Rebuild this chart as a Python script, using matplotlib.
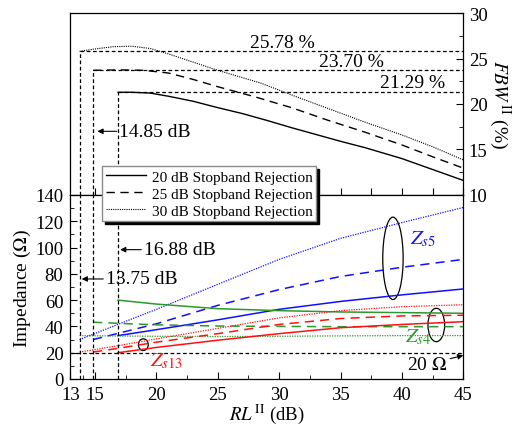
import numpy as np
import matplotlib
matplotlib.use("Agg")
import matplotlib.pyplot as plt
from matplotlib.patches import Ellipse
from matplotlib.ticker import MultipleLocator, FixedLocator

plt.rcParams['font.family'] = ['Liberation Serif', 'DejaVu Serif']
plt.rcParams['mathtext.fontset'] = 'stix'

# FBW (top panel)
rl_20 = [16.88, 18, 19.5, 21, 23, 25, 27, 29, 31, 33, 35, 37, 40, 42.5, 45]
fbw_20 = [21.29, 21.29, 21.2, 20.85, 20.3, 19.6, 18.95, 18.2, 17.4, 16.65, 15.9, 15.2, 14.0, 12.8, 11.6]
rl_25 = [14.85, 17, 19, 21, 23, 25, 28, 31, 34, 37, 40, 42.5, 45]
fbw_25 = [23.70, 23.75, 23.7, 23.4, 22.7, 21.9, 20.8, 19.6, 18.2, 16.9, 15.5, 14.2, 12.95]
rl_30 = [13.75, 15, 16.5, 18, 19.5, 21, 23, 25, 28.5, 31, 34, 37, 40, 42.5, 45]
fbw_30 = [25.78, 26.05, 26.3, 26.35, 26.1, 25.5, 24.6, 23.7, 22.3, 21.0, 19.5, 18.0, 16.6, 15.3, 13.86]

# impedances (bottom panel)
x20 = [16.88, 20, 25, 30, 35, 40, 45]
x25 = [14.85, 17, 20, 25, 30, 35, 40, 45]
x30 = [13.75, 17, 20, 25, 30, 35, 40, 45]
zs5_20 = [33, 37.5, 45, 53, 59, 64, 68.5]
zs5_25 = [30, 35, 42, 56, 68, 78, 85, 91]
zs5_30 = [30, 42, 53, 72, 91, 107, 119, 130.5]
zs4_20 = [60, 57, 53.5, 52, 51, 50.5, 50]
zs4_25 = [43.2, 42.3, 41.2, 40.3, 40, 39.8, 39.8, 39.8]
zs4_30 = [33, 32.7, 32.5, 32.3, 32.5, 32.8, 33, 33]
zs13_20 = [20, 24, 29.5, 34.5, 39, 41.5, 43.6]
zs13_25 = [20.5, 23.5, 28, 34.5, 41.5, 46, 48, 48.5]
zs13_30 = [20.5, 25.5, 30.5, 38.5, 46.5, 52, 55, 56.5]

start_rl = [13.75, 14.85, 16.88]
peak_fbw = [25.78, 23.70, 21.29]
z_ref = 20

blue = '#1010ff'
red = '#ff1010'
green = '#2a9a2a'
dash = (0, (6, 4))
dot = (0, (1, 1))
refdash = (0, (3, 2))

fig = plt.figure(figsize=(5.16, 4.27), dpi=100)
ax1 = fig.add_axes([0.1364, 0.541, 0.7615, 0.4262])
ax2 = fig.add_axes([0.1364, 0.1101, 0.7615, 0.4309])

# top panel
l1, = ax1.plot(rl_20, fbw_20, color='black', lw=1.0, ls='-', label='20 dB Stopband Rejection')
l2, = ax1.plot(rl_25, fbw_25, color='black', lw=1.0, ls=dash, label='25 dB Stopband Rejection')
l3, = ax1.plot(rl_30, fbw_30, color='black', lw=0.8, ls=dot, label='30 dB Stopband Rejection')
ax1.vlines(start_rl, 10, peak_fbw, colors='black', lw=0.9, linestyles=[refdash])
ax1.hlines(peak_fbw, start_rl, 45, colors='black', lw=0.9, linestyles=[refdash])
ax1.text(30.3, 26.78, '25.78 %', fontsize=14, ha='center', va='center')
ax1.text(35.9, 24.7, '23.70 %', fontsize=14, ha='center', va='center')
ax1.text(40.9, 22.35, '21.29 %', fontsize=14, ha='center', va='center')
ax1.annotate('14.85 dB', xy=(15.2, 17.0), xytext=(17.0, 17.0), fontsize=14,
             ha='left', va='center',
             arrowprops=dict(arrowstyle='-|>', color='black', lw=0.8, mutation_scale=8,
                             shrinkA=0, shrinkB=0))
ax1.set_xlim(13, 45)
ax1.set_ylim(10, 30)
ax1.yaxis.tick_right()
ax1.yaxis.set_label_position('right')
ax1.yaxis.set_major_locator(MultipleLocator(5))
ax1.yaxis.set_minor_locator(MultipleLocator(2.5))
ax1.xaxis.set_major_locator(MultipleLocator(2.5))
ax1.tick_params(axis='x', which='both', direction='in', length=5, labelbottom=False)
ax1.tick_params(axis='y', which='major', direction='in', length=5, labelsize=13.5, pad=4)
ax1.tick_params(axis='y', which='minor', direction='in', length=3)
ax1.set_ylabel(r'$FBW^{\,\mathrm{II}}$ (%)', fontsize=14, rotation=270, labelpad=18)

# bottom panel
ax2.plot(x20, zs5_20, color=blue, lw=1.1)
ax2.plot(x25, zs5_25, color=blue, lw=1.1, ls=dash)
ax2.plot(x30, zs5_30, color=blue, lw=0.9, ls=dot)
ax2.plot(x20, zs4_20, color=green, lw=1.1)
ax2.plot(x25, zs4_25, color=green, lw=1.1, ls=dash)
ax2.plot(x30, zs4_30, color=green, lw=0.9, ls=dot)
ax2.plot(x20, zs13_20, color=red, lw=1.1)
ax2.plot(x25, zs13_25, color=red, lw=1.1, ls=dash)
ax2.plot(x30, zs13_30, color=red, lw=0.9, ls=dot)
ax2.vlines(start_rl, 0, 140, colors='black', lw=0.9, linestyles=[refdash])
ax2.hlines(z_ref, 13, 45, colors='black', lw=0.9, linestyles=[refdash])

ax2.add_patch(Ellipse((39.27, 91.8), 1.66, 62.7, fill=False, ec='black', lw=0.9))
ax2.add_patch(Ellipse((42.8, 41.1), 1.36, 25.4, fill=False, ec='black', lw=0.9))
ax2.add_patch(Ellipse((18.94, 26.1), 0.8, 8.9, fill=False, ec='black', lw=0.9))
ax2.text(41.7, 107, r'$Z_{s5}$', color=blue, fontsize=15, ha='center', va='center')
ax2.text(41.3, 32.7, r'$Z_{s4}$', color=green, fontsize=15, ha='center', va='center')
ax2.text(20.8, 14.0, r'$Z_{s13}$', color=red, fontsize=15, ha='center', va='center')

arrow = dict(arrowstyle='-|>', color='black', lw=0.8, mutation_scale=8, shrinkA=0, shrinkB=0)
ax2.annotate('16.88 dB', xy=(17.05, 98.4), xytext=(19.0, 98.4), fontsize=14,
             ha='left', va='center', arrowprops=arrow)
ax2.annotate('13.75 dB', xy=(13.92, 76.1), xytext=(15.9, 76.1), fontsize=14,
             ha='left', va='center', arrowprops=arrow)
ax2.annotate(r'20 $\Omega$', xy=(45, 18), xytext=(43.7, 11.0), fontsize=14,
             ha='right', va='center', arrowprops=arrow)

ax2.set_xlim(13, 45)
ax2.set_ylim(0, 140)
ax2.xaxis.set_major_locator(FixedLocator([13, 15, 20, 25, 30, 35, 40, 45]))
ax2.xaxis.set_minor_locator(FixedLocator([14, 17.5, 22.5, 27.5, 32.5, 37.5, 42.5]))
ax2.yaxis.set_major_locator(MultipleLocator(20))
ax2.yaxis.set_minor_locator(MultipleLocator(10))
ax2.tick_params(which='major', direction='in', length=5, labelsize=13.5, pad=5)
ax2.tick_params(which='minor', direction='in', length=3)
ax2.set_ylabel(r'Impedance ($\Omega$)', fontsize=14, labelpad=2)
ax2.set_xlabel(r'$RL^{\,\mathrm{II}}$ (dB)', fontsize=13.5, labelpad=-1)

for ax in (ax1, ax2):
    for s in ax.spines.values():
        s.set_linewidth(0.9)

fig.legend([l1, l2, l3], [l1.get_label(), l2.get_label(), l3.get_label()],
           loc='upper left', bbox_to_anchor=(102 / 516, 1 - 167 / 427),
           borderaxespad=0, fontsize=11, frameon=True, fancybox=False,
           shadow={'color': 'black', 'alpha': 1}, edgecolor='0.55',
           handlelength=2.6, handletextpad=0.4, borderpad=0.25, labelspacing=0.22)

fig.savefig('out.png', dpi=100)
